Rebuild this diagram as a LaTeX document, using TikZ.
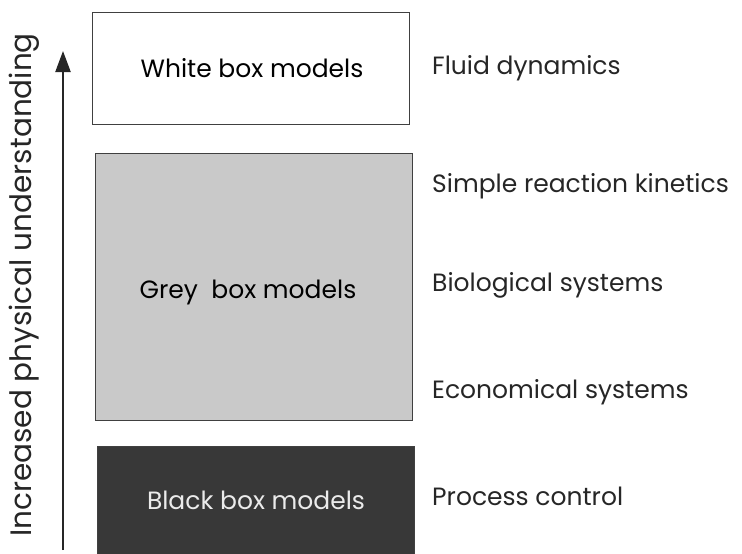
\documentclass[tikz,border=0pt]{standalone}
\usepackage{fontspec}
\setmainfont{Poppins}
\usetikzlibrary{positioning,arrows.meta}
\definecolor{greyfill}{gray}{0.79}
\definecolor{blackfill}{gray}{0.22}
\tikzset{
  modelbox/.style={draw=black!75, semithick, minimum width=317pt, inner sep=0pt},
  sidelabel/.style={anchor=west, inner sep=0pt, text=black!85},
}
\begin{document}
\begin{tikzpicture}[x=1pt,y=-1pt,font=\fontsize{25}{30}\selectfont]
  \useasboundingbox (0,0) rectangle (742,554);

  % boxes
  \node[modelbox, minimum height=112pt] (wbox) at (251,68) {};
  \node (wtext) at (252,68) {White box models};
  \node[modelbox, fill=greyfill, minimum height=267pt] (gbox) at (254,286.5) {};
  \node at (248,292) (gtext) {Grey\ \ box models};
  \node[modelbox, fill=blackfill, minimum height=116pt] (bbox) at (255.5,504) {};
  \node at (256,500) (btext) [text=white!92!black] {Black box models};

  % examples on the right
  \node[sidelabel] (fluid) at (432,68) {Fluid dynamics};
  \node[sidelabel] (kin) at (432,186) {Simple reaction kinetics};
  \node[sidelabel] (bio) at (432,285) {Biological systems};
  \node[sidelabel] (eco) at (432,392) {Economical systems};
  \node[sidelabel] (proc) at (432,496) {Process control};

  % arrow
  \coordinate (abot) at (63,550);
  \coordinate (atop) at (63,51);
  \draw[line width=2.2pt, black!85, -{Triangle[length=21pt,width=15pt]}] (abot) -- (atop);
  \node[rotate=90, text=black!85, font=\fontsize{29.5}{34}\selectfont] (understand) at (24,285) {Increased physical understanding};
\end{tikzpicture}
\end{document}
